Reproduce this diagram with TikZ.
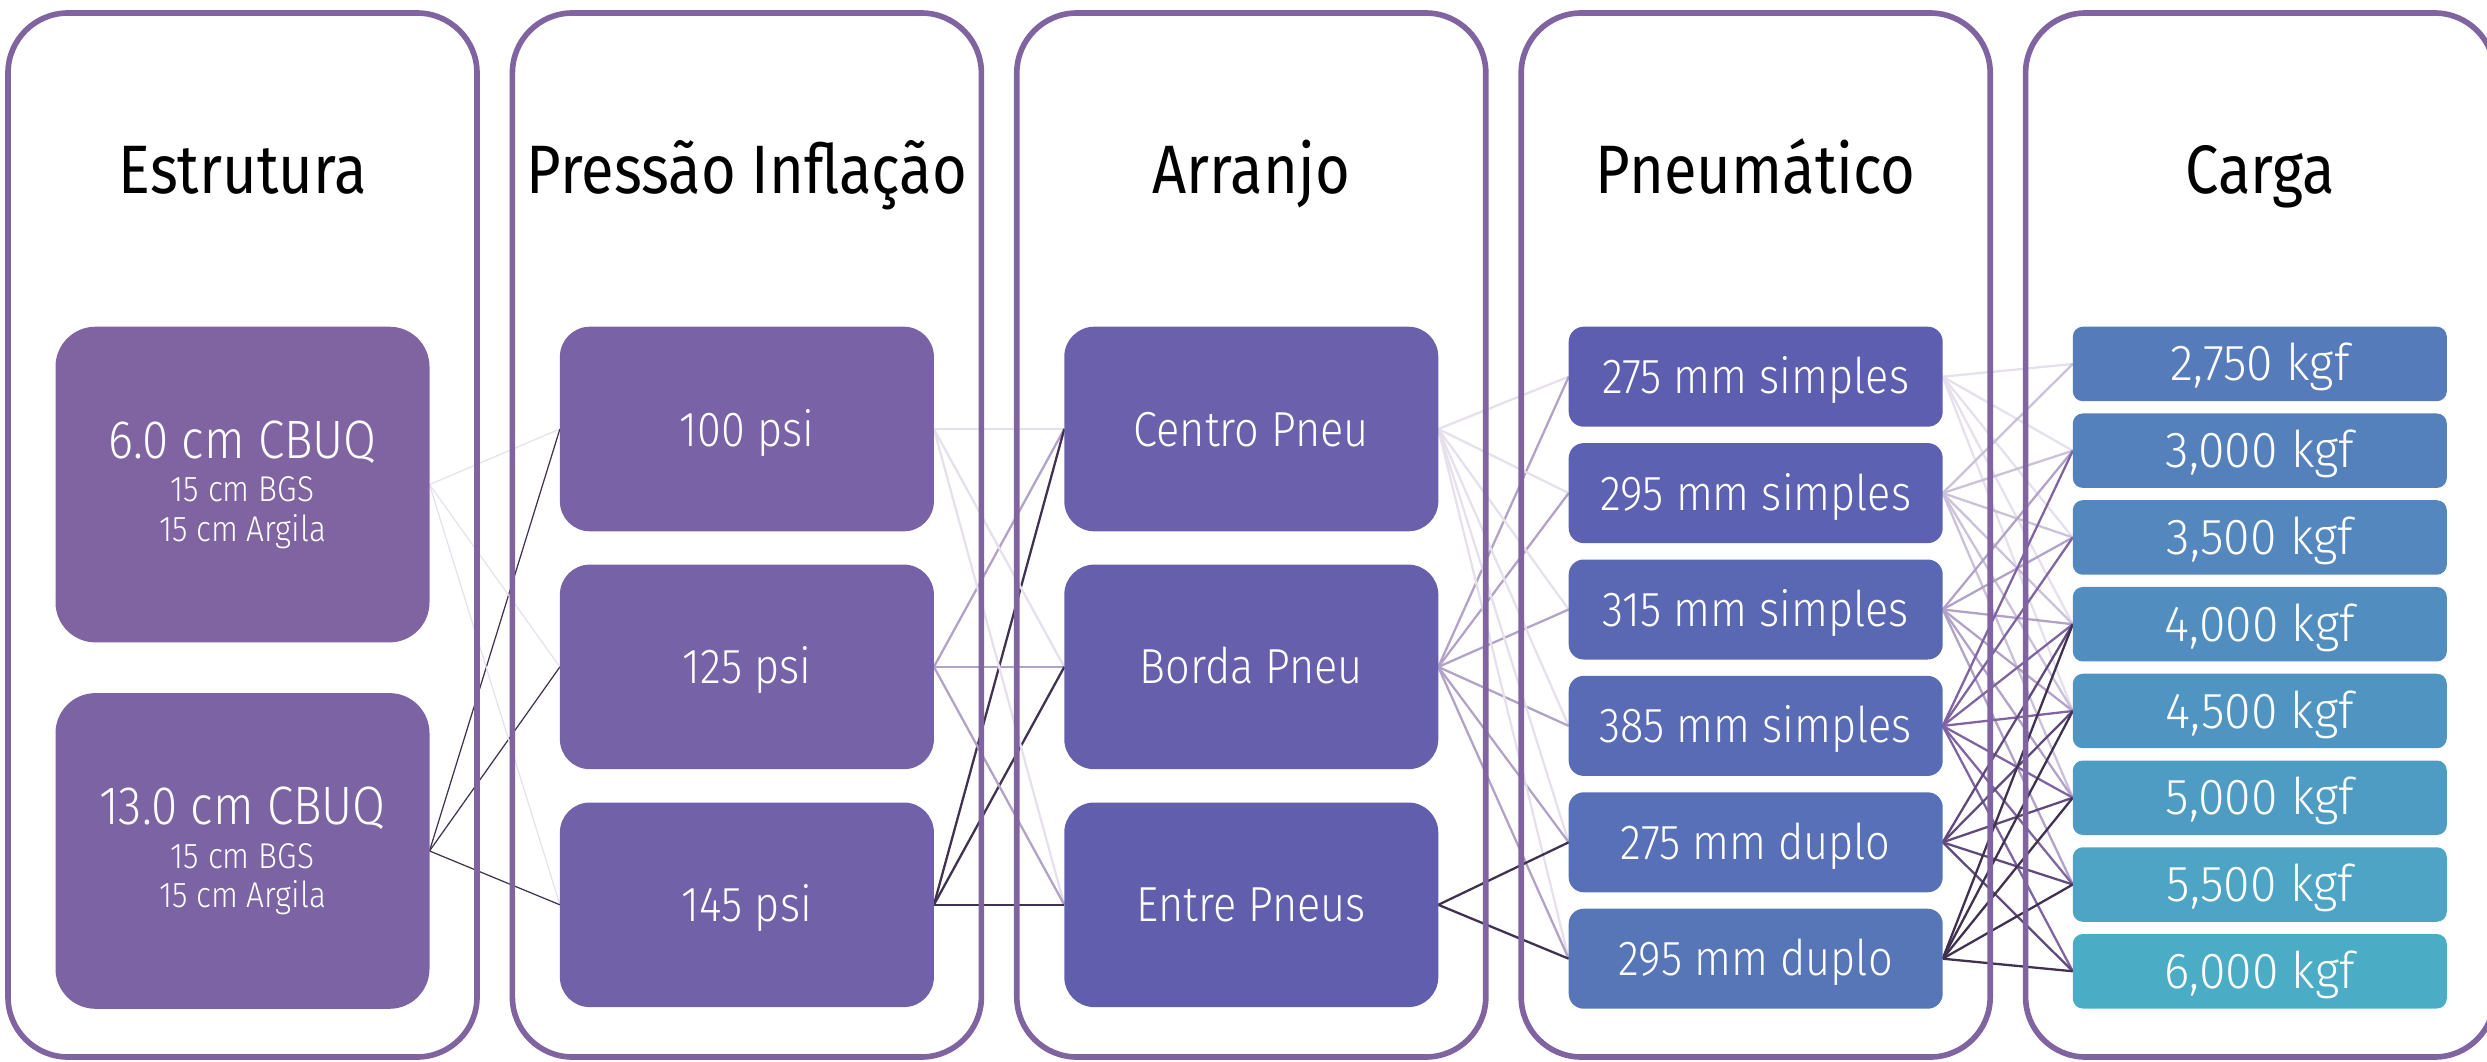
\documentclass[tikz,border=0pt]{standalone}
\usepackage{fontspec}
\setmainfont{Fira Sans}[FakeStretch=0.87]
\newfontfamily\thinfont{Fira Sans Light}[FakeStretch=0.88]
\newfontfamily\widefont{Fira Sans Light}[FakeStretch=0.95]
\usepackage{tikz}
\usetikzlibrary{
  positioning,
  backgrounds
}
\definecolor{FrameViolet}{RGB}{128,100,162}
\definecolor{LinkPale}{RGB}{230,224,236}
\definecolor{LinkMist}{RGB}{204,193,218}
\definecolor{LinkLilac}{RGB}{179,162,199}
\definecolor{LinkViolet}{RGB}{128,100,162}
\definecolor{LinkDeep}{RGB}{96,74,123}
\definecolor{LinkDark}{RGB}{64,49,81}
% cell fills, violet towards aqua
\definecolor{Fill0}{RGB}{128,100,162}
\definecolor{Fill1}{RGB}{124,99,164}
\definecolor{Fill2}{RGB}{121,98,165}
\definecolor{Fill3}{RGB}{117,98,167}
\definecolor{Fill4}{RGB}{112,97,169}
\definecolor{Fill5}{RGB}{107,96,171}
\definecolor{Fill6}{RGB}{102,95,172}
\definecolor{Fill7}{RGB}{97,94,174}
\definecolor{Fill8}{RGB}{93,94,176}
\definecolor{Fill9}{RGB}{92,98,177}
\definecolor{Fill10}{RGB}{90,103,179}
\definecolor{Fill11}{RGB}{89,107,181}
\definecolor{Fill12}{RGB}{88,112,183}
\definecolor{Fill13}{RGB}{87,118,184}
\definecolor{Fill14}{RGB}{85,123,186}
\definecolor{Fill15}{RGB}{84,129,188}
\definecolor{Fill16}{RGB}{83,135,189}
\definecolor{Fill17}{RGB}{81,142,191}
\definecolor{Fill18}{RGB}{80,149,193}
\definecolor{Fill19}{RGB}{78,156,195}
\definecolor{Fill20}{RGB}{77,164,196}
\definecolor{Fill21}{RGB}{75,172,198}
\newcommand\subline{\fontsize{10.2}{11.2}\selectfont}
\tikzset{
  panel/.style={
    draw=FrameViolet,
    line width=1.6pt,
    rounded corners=6mm,
    minimum width=4.69cm,
    minimum height=10.44cm,
    inner sep=0pt,
    outer sep=0pt
  },
  colhead/.style={font=\fontsize{19.5}{22}\selectfont, anchor=base, inner sep=0pt},
  cell/.style={
    text=white,
    minimum width=3.74cm,
    inner sep=0pt,
    outer sep=0pt,
    align=center,
    font=\thinfont\fontsize{14}{12.4}\selectfont
  },
  onecell/.style={cell, text height=9.7pt, text depth=0pt},
  bigcell/.style={cell, minimum height=3.157cm, rounded corners=4mm, font=\thinfont\fontsize{15.4}{12.4}\selectfont},
  midcell/.style={onecell, minimum height=2.046cm, rounded corners=3mm},
  tyrecell/.style={onecell, minimum height=1.0cm, rounded corners=1.5mm},
  loadcell/.style={onecell, minimum height=0.745cm, rounded corners=1mm, font=\widefont\fontsize{14.4}{12.4}\selectfont},
  link/.style={line width=0.65pt},
  thinlink/.style={line width=0.35pt}
}

\begin{document}
\begin{tikzpicture}
  \useasboundingbox (0,0) rectangle (24.87,10.61);

  \node[panel] (frame1) at (2.425,5.26) {};
  \node[panel] (frame2) at (7.469,5.26) {};
  \node[panel] (frame3) at (12.513,5.26) {};
  \node[panel] (frame4) at (17.557,5.26) {};
  \node[panel] (frame5) at (22.601,5.26) {};

  \node[colhead] (head1) at (2.425,8.68) {Estrutura};
  \node[colhead] (head2) at (7.469,8.68) {Pressão Inflação};
  \node[colhead] (head3) at (12.513,8.68) {Arranjo};
  \node[colhead] (head4) at (17.557,8.68) {Pneumático};
  \node[colhead] (head5) at (22.601,8.68) {Carga};

  % Estrutura
  \node[bigcell, fill=Fill0, anchor=north] (cbuq6) at (2.425,7.343) {6.0 cm CBUQ\\\subline 15 cm BGS\\[-1.2pt]\subline 15 cm Argila};
  \node[bigcell, fill=Fill1, below=0.507cm of cbuq6] (cbuq13) {13.0 cm CBUQ\\\subline 15 cm BGS\\[-1.2pt]\subline 15 cm Argila};

  % Pressao
  \node[midcell, fill=Fill2, anchor=north] (psi100) at (7.469,7.343) {100 psi};
  \node[midcell, fill=Fill3, below=0.333cm of psi100] (psi125) {125 psi};
  \node[midcell, fill=Fill4, below=0.333cm of psi125] (psi145) {145 psi};

  % Arranjo
  \node[midcell, fill=Fill5, anchor=north] (centro) at (12.513,7.343) {Centro Pneu};
  \node[midcell, fill=Fill6, below=0.333cm of centro] (borda) {Borda Pneu};
  \node[midcell, fill=Fill7, below=0.333cm of borda] (entre) {Entre Pneus};

  % Pneumatico
  \node[tyrecell, fill=Fill8, anchor=north] (pn275s) at (17.557,7.343) {275 mm simples};
  \node[tyrecell, fill=Fill9, below=0.164cm of pn275s] (pn295s) {295 mm simples};
  \node[tyrecell, fill=Fill10, below=0.164cm of pn295s] (pn315s) {315 mm simples};
  \node[tyrecell, fill=Fill11, below=0.164cm of pn315s] (pn385s) {385 mm simples};
  \node[tyrecell, fill=Fill12, below=0.164cm of pn385s] (pn275d) {275 mm duplo};
  \node[tyrecell, fill=Fill13, below=0.164cm of pn275d] (pn295d) {295 mm duplo};

  % Carga
  \node[loadcell, fill=Fill14, anchor=north] (kg2750) at (22.598,7.343) {2,750 kgf};
  \node[loadcell, fill=Fill15, below=0.1226cm of kg2750] (kg3000) {3,000 kgf};
  \node[loadcell, fill=Fill16, below=0.1226cm of kg3000] (kg3500) {3,500 kgf};
  \node[loadcell, fill=Fill17, below=0.1226cm of kg3500] (kg4000) {4,000 kgf};
  \node[loadcell, fill=Fill18, below=0.1226cm of kg4000] (kg4500) {4,500 kgf};
  \node[loadcell, fill=Fill19, below=0.1226cm of kg4500] (kg5000) {5,000 kgf};
  \node[loadcell, fill=Fill20, below=0.1226cm of kg5000] (kg5500) {5,500 kgf};
  \node[loadcell, fill=Fill21, below=0.1226cm of kg5500] (kg6000) {6,000 kgf};

  \begin{scope}[on background layer]
    \foreach \dst in {psi100,psi125,psi145} {
      \draw[thinlink, LinkPale] (cbuq6.east) -- (\dst.west);
      \draw[thinlink, LinkDark] (cbuq13.east) -- (\dst.west);
    }
    \foreach \dst in {centro,borda,entre} {
      \draw[link, LinkPale] (psi100.east) -- (\dst.west);
      \draw[link, LinkLilac] (psi125.east) -- (\dst.west);
      \draw[link, LinkDark] (psi145.east) -- (\dst.west);
    }
    \foreach \dst in {pn275s,pn295s,pn315s,pn385s,pn275d,pn295d} {
      \draw[link, LinkPale] (centro.east) -- (\dst.west);
      \draw[link, LinkLilac] (borda.east) -- (\dst.west);
    }
    \foreach \dst in {pn275d,pn295d}
      \draw[link, LinkDark] (entre.east) -- (\dst.west);
    \foreach \dst in {kg2750,kg3000,kg3500,kg4000,kg4500}
      \draw[link, LinkPale] (pn275s.east) -- (\dst.west);
    \foreach \dst in {kg2750,kg3000,kg3500,kg4000,kg4500,kg5000}
      \draw[link, LinkMist] (pn295s.east) -- (\dst.west);
    \foreach \dst in {kg3000,kg3500,kg4000,kg4500,kg5000,kg5500}
      \draw[link, LinkLilac] (pn315s.east) -- (\dst.west);
    \foreach \dst in {kg3000,kg3500,kg4000,kg4500,kg5000,kg5500,kg6000}
      \draw[link, LinkViolet] (pn385s.east) -- (\dst.west);
    \foreach \dst in {kg4000,kg4500,kg5000,kg5500,kg6000}
      \draw[link, LinkDeep] (pn275d.east) -- (\dst.west);
    \foreach \dst in {kg4000,kg4500,kg5000,kg5500,kg6000}
      \draw[link, LinkDark] (pn295d.east) -- (\dst.west);
  \end{scope}
\end{tikzpicture}
\end{document}
